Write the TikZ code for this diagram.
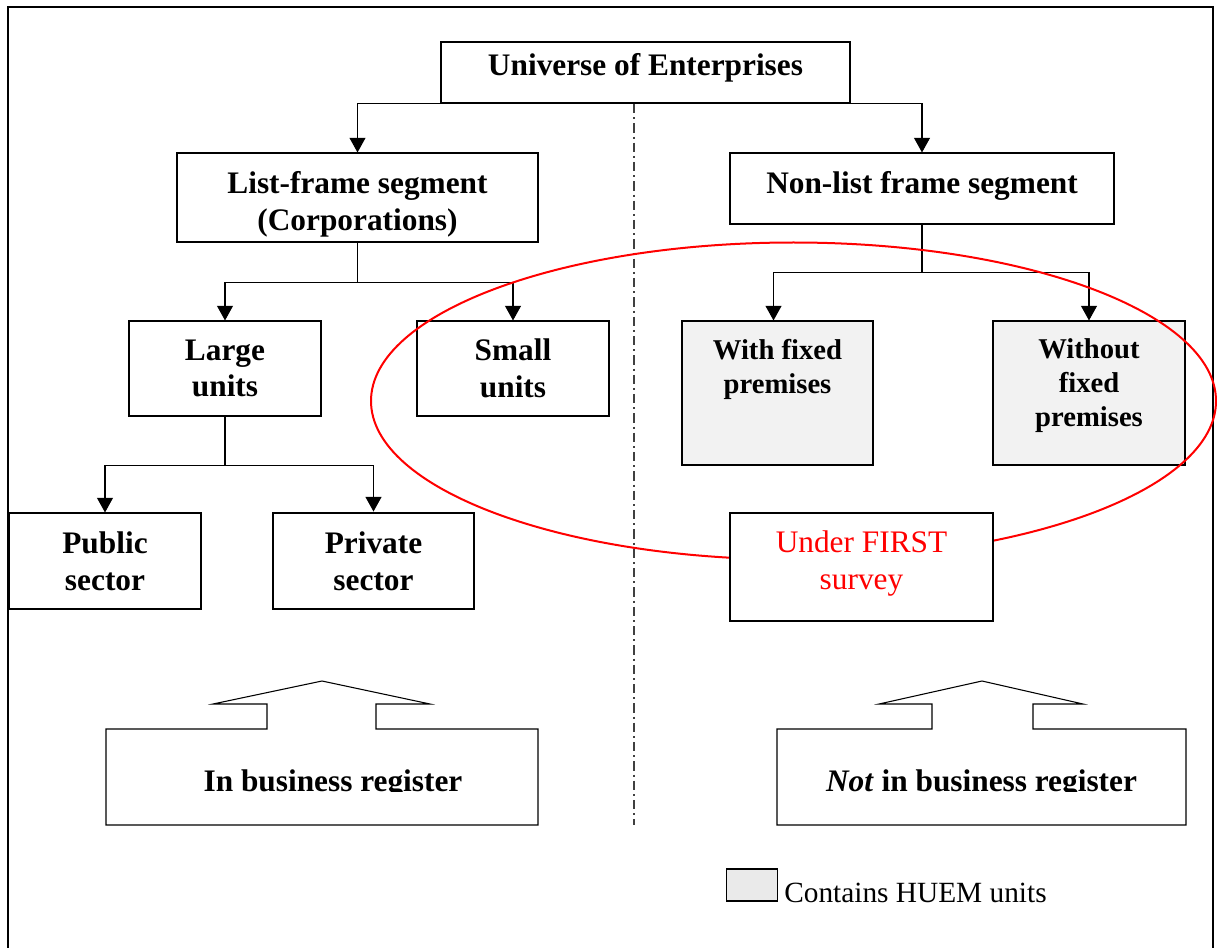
\documentclass[tikz,border=0pt]{standalone}
\usepackage{fontspec}
\setmainfont{Liberation Serif}
\usepackage{xcolor}
\usetikzlibrary{arrows.meta}

\definecolor{grayfill}{HTML}{F2F2F2}
\definecolor{legendfill}{HTML}{EAEAEA}

\begin{document}
\begin{tikzpicture}[x=0.75pt,y=0.75pt,yscale=-1,xscale=1,
    box/.style={draw,line width=0.8pt,fill=white,align=center,inner sep=0pt,
        font=\fontsize{23.5}{27.5}\selectfont\bfseries},
    shaded/.style={box,fill=grayfill},
    lbl/.style={align=center,inner sep=0pt,font=\fontsize{23.5}{27.5}\selectfont\bfseries},
    lblsm/.style={align=center,inner sep=0pt,font=\fontsize{21.5}{25.5}\selectfont\bfseries},
    conn/.style={line width=0.8pt,-{Triangle[width=12pt,length=11pt]}},
    plain/.style={line width=0.8pt},
    divider/.style={line width=0.8pt,black!75,dash pattern=on 7pt off 3pt on 1.5pt off 3pt}]
        \useasboundingbox (0,0) rectangle (1217,948);

        % frame round the page
        \draw[line width=0.9pt] (8,948) -- (8,7) -- (1213,7) -- (1213,948);

        % top of the tree
        \node[box,minimum width=306.75pt,minimum height=45.75pt] (univ) at (645.5,72.5) {};
        \node[lbl] (univtxt) at (645.5,67.5) {Universe of Enterprises};
        \node[box,minimum width=270.75pt,minimum height=66.75pt] (list) at (357.5,197.5) {};
        \node[lbl] (listtxt) at (357.5,204) {List-frame segment\\(Corporations)};
        \node[box,minimum width=288pt,minimum height=53.25pt] (nonlist) at (922,188.5) {};
        \node[lbl] (nonlisttxt) at (922,186) {Non-list frame segment};

        % second level
        \node[box,minimum width=144pt,minimum height=71.25pt] (large) at (225,368.5) {Large\\units};
        \node[box,minimum width=144pt,minimum height=71.25pt] (small) at (513,368.5) {Small\\units};
        \node[shaded,minimum width=143.25pt,minimum height=108pt] (with) at (777.5,393) {};
        \node[lblsm] (withtxt) at (777.5,369) {With fixed\\premises};
        \node[shaded,minimum width=144pt,minimum height=108pt] (without) at (1089,393) {};
        \node[lblsm] (withouttxt) at (1089,385.5) {Without\\fixed\\premises};

        % third level
        \node[box,minimum width=144pt,minimum height=72pt] (public) at (105,561) {Public\\sector};
        \node[box,line width=2.2pt,minimum width=150.75pt,minimum height=72pt] (private) at (373.5,561) {Private\\sector};

        % connectors
        \draw[conn] (univ.south west) -| (list.north);
        \draw[conn] (univ.south east) -| (nonlist.north);
        \draw[plain] (list.south) -- ++(0,40) coordinate (lsplit);
        \draw[conn] (lsplit) -| (large.north);
        \draw[conn] (lsplit) -| (small.north);
        \draw[plain] (nonlist.south) -- ++(0,48) coordinate (nsplit);
        \draw[conn] (nsplit) -| ([xshift=-3pt]with.north);
        \draw[conn] (nsplit) -| (without.north);
        \draw[plain] (large.south) -- ++(0,49) coordinate (psplit);
        \draw[conn] (psplit) -| (public.north);
        \draw[conn] (psplit) -| (private.north);

        % dividing line
        \coordinate (divtop) at (634,104);
        \coordinate (divbot) at (634,825);
        \draw[divider] (divtop) -- (divbot);

        % survey scope
        \draw[red,line width=1.5pt] (793.5,401) ellipse [x radius=422.5,y radius=158.5];
        \node[box,line width=1.1pt,minimum width=197.25pt,minimum height=81pt] (first) at (861.5,567) {};
        \node[lbl,font=\fontsize{23.5}{27.5}\selectfont,text=red] (firsttxt) at (861.5,563.5) {Under FIRST\\survey};

        % register blocks
        \draw[plain] (106,729) -- (267,729) -- (267,704) -- (213,704) -- (322,681) -- (430,704) -- (376,704) -- (376,729) -- (538,729) -- (538,825) -- (106,825) -- cycle;
        \draw[plain] (777,729) -- (932,729) -- (932,704) -- (879,704) -- (982,681) -- (1083,704) -- (1033,704) -- (1033,729) -- (1186,729) -- (1186,825) -- (777,825) -- cycle;
        \begin{scope}
            \clip (0,0) rectangle (1217,791.5);
            \node[lbl,anchor=base] (inreg) at (333,791) {In business register};
            \node[lbl,anchor=base] (notreg) at (981.5,791) {\textit{Not} in business register};
        \end{scope}

        % legend
        \node[draw,line width=1.1pt,fill=legendfill,minimum width=38.25pt,minimum height=24pt,inner sep=0pt] (legbox) at (752,885) {};
        \node[anchor=base west,inner sep=0pt,font=\fontsize{22}{26}\selectfont] (legtxt) at (784,902) {Contains HUEM units};
    \end{tikzpicture}
\end{document}
